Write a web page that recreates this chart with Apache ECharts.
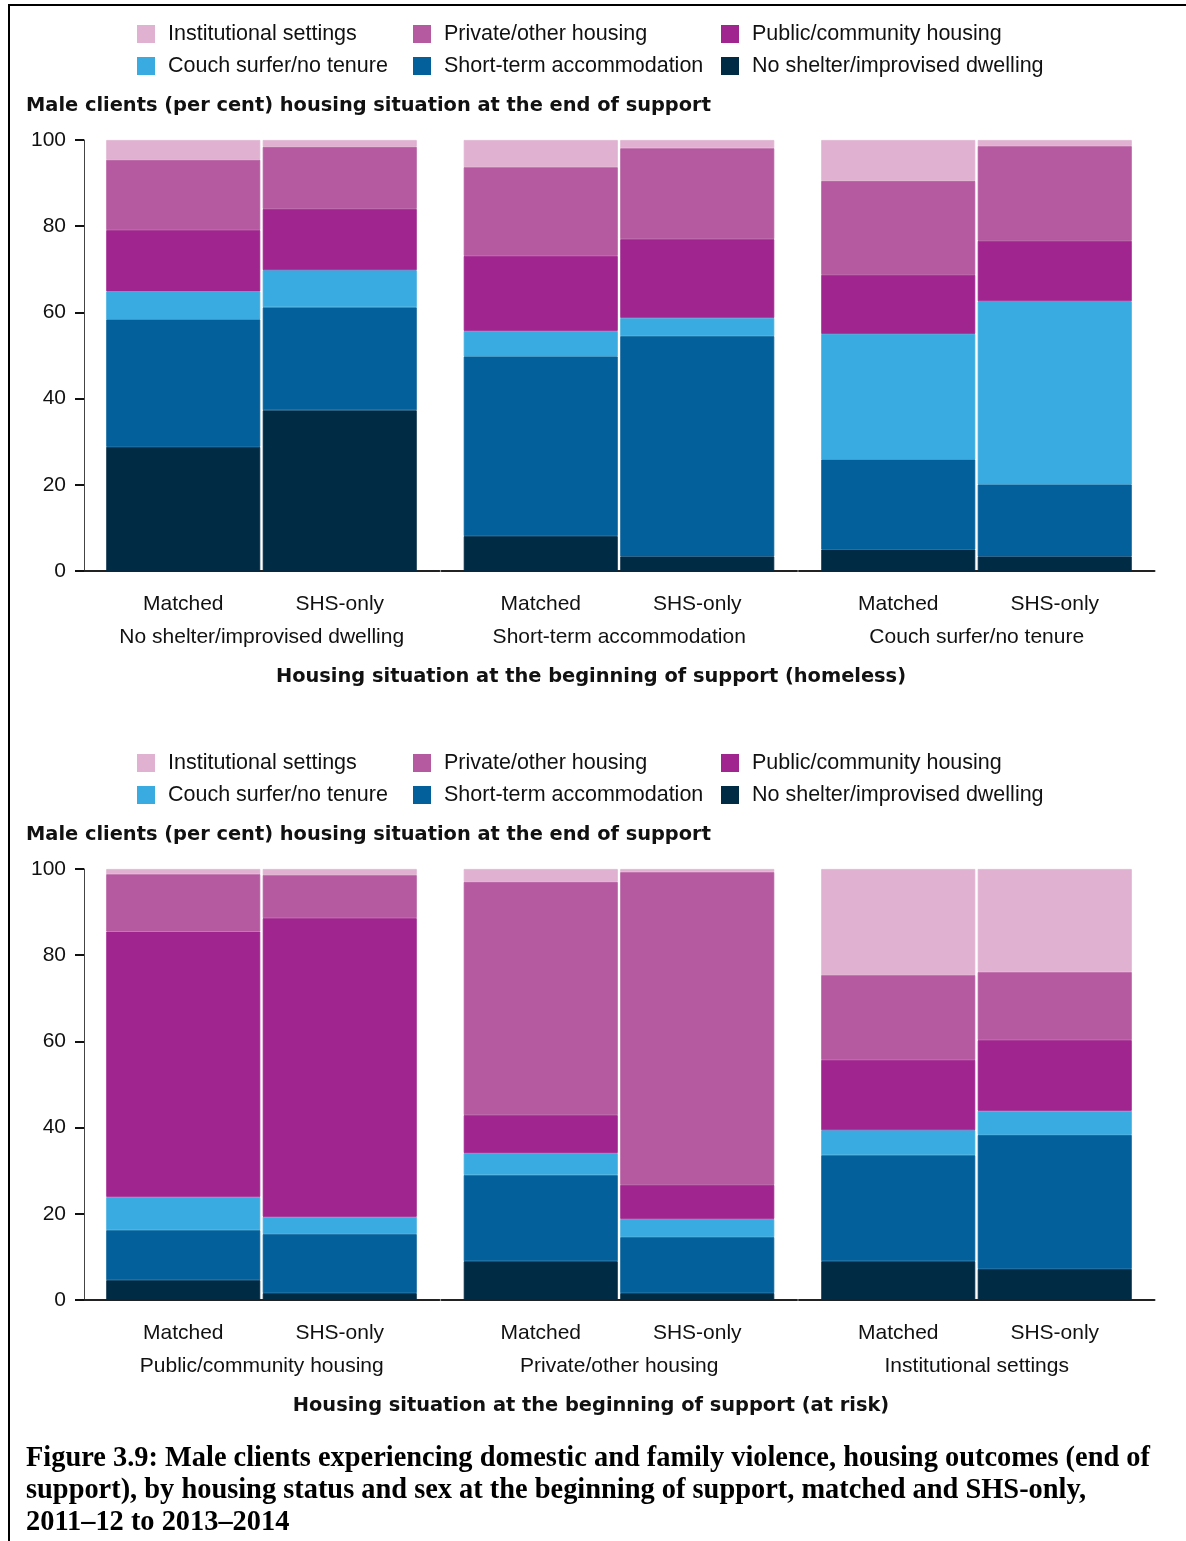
<!DOCTYPE html>
<html><head><meta charset="utf-8">
<script src="https://cdn.jsdelivr.net/npm/echarts@6/dist/echarts.min.js"></script>
<style>
html,body{margin:0;padding:0;background:#fff;}
#frame{position:absolute;left:8px;top:4px;width:1178px;height:1537px;border-top:2px solid #000;border-left:2px solid #000;box-sizing:border-box;}
#chart{position:absolute;left:0;top:0;width:1186px;height:1541px;}
</style></head><body>
<div id="frame"></div><div id="chart"></div>
<script>
// ---- data ----
const seriesNames = ['No shelter/improvised dwelling','Short-term accommodation','Couch surfer/no tenure','Public/community housing','Private/other housing','Institutional settings'];
const seriesColors = ['#002B45','#03609A','#3AABE0','#A0258E','#B55AA0','#E0B1D1'];
const barLabels = ['Matched','SHS-only'];
const homelessGroups = ['No shelter/improvised dwelling','Short-term accommodation','Couch surfer/no tenure'];
const atRiskGroups = ['Public/community housing','Private/other housing','Institutional settings'];
const yTicks = [0,20,40,60,80,100];
// bar order: g1 Matched, g1 SHS-only, g2 Matched, g2 SHS-only, g3 Matched, g3 SHS-only
const homelessNoShelter    = [28.8, 37.3,  8.1,  3.4,  5.0,  3.4];
const homelessShortTerm    = [29.6, 23.9, 41.7, 51.1, 20.9, 16.7];
const homelessCouch        = [ 6.5,  8.6,  5.9,  4.2, 29.1, 42.5];
const homelessPublic       = [14.2, 14.2, 17.4, 18.3, 13.7, 14.0];
const homelessPrivate      = [16.3, 14.4, 20.6, 21.1, 21.8, 22.0];
const homelessInstitution  = [ 4.6,  1.6,  6.3,  1.9,  9.5,  1.4];

const atRiskNoShelter      = [ 4.6,  1.6,  9.0,  1.6,  9.0,  7.2];
const atRiskShortTerm      = [11.6, 13.7, 20.0, 13.0, 24.6, 31.1];
const atRiskCouch          = [ 7.7,  4.0,  5.1,  4.2,  5.8,  5.6];
const atRiskPublic         = [61.6, 69.3,  8.8,  7.9, 16.3, 16.4];
const atRiskPrivate        = [13.3, 10.0, 54.1, 72.6, 19.7, 15.8];
const atRiskInstitution    = [ 1.2,  1.4,  3.0,  0.7, 24.6, 23.9];

const panels = [
  {groups: homelessGroups, values: [homelessNoShelter, homelessShortTerm, homelessCouch, homelessPublic, homelessPrivate, homelessInstitution],
   top: 140, legendTop: 23, title: 'Male clients (per cent) housing situation at the end of support', titleY: 106,
   axisName: 'Housing situation at the beginning of support (homeless)', axisNameY: 677},
  {groups: atRiskGroups, values: [atRiskNoShelter, atRiskShortTerm, atRiskCouch, atRiskPublic, atRiskPrivate, atRiskInstitution],
   top: 869, legendTop: 752, title: 'Male clients (per cent) housing situation at the end of support', titleY: 835,
   axisName: 'Housing situation at the beginning of support (at risk)', axisNameY: 1406}
];

// ---- layout ----
const FONT = '"Liberation Sans", Arial, sans-serif';
const BOLDFONT = 'bold 19.4px "DejaVu Sans", sans-serif';
const TXT = '#111';
const plotH = 431;
const outerLefts = [84, 441.5, 799];
const outerW = 355.5;
const innerOff = 21, innerW = 313;

const grid = [], xAxis = [], yAxis = [], series = [], legend = [], graphic = [];

panels.forEach((p, pi) => {
  p.groups.forEach((gName, gi) => {
    // outer grid: axis line + group label + y axis
    const oIdx = grid.length;
    grid.push({left: outerLefts[gi], top: p.top, width: outerW, height: plotH});
    xAxis.push({type: 'category', gridIndex: oIdx, data: [gName],
      axisLine: {show: true, lineStyle: {color: '#222', width: 2}},
      axisTick: {show: false},
      axisLabel: {margin: 56, fontSize: 21, color: TXT, fontFamily: FONT}});
    yAxis.push({type: 'value', gridIndex: oIdx, min: 0, max: 100, interval: 20, show: gi === 0,
      splitLine: {show: false},
      axisLine: {show: true, lineStyle: {color: '#444', width: 1}},
      axisTick: {show: true, inside: false, length: 9, lineStyle: {color: '#111', width: 2}},
      axisLabel: {margin: 18, fontSize: 21, color: TXT, fontFamily: FONT,
        formatter: v => yTicks.indexOf(v) >= 0 ? String(v) : ''}});
    // inner grid: bars
    const iIdx = grid.length;
    grid.push({left: outerLefts[gi] + innerOff, top: p.top, width: innerW, height: plotH});
    xAxis.push({type: 'category', gridIndex: iIdx, data: barLabels,
      axisLine: {show: false}, axisTick: {show: false},
      axisLabel: {margin: 23, fontSize: 21, color: TXT, fontFamily: FONT}});
    yAxis.push({type: 'value', gridIndex: iIdx, min: 0, max: 100, show: false, splitLine: {show: false}});
    seriesNames.forEach((sName, si) => {
      series.push({type: 'bar', name: sName, xAxisIndex: iIdx, yAxisIndex: iIdx,
        stack: 'p' + pi + 'g' + gi, barWidth: 154,
        itemStyle: {color: seriesColors[si], borderColor: seriesColors[si], borderWidth: 0.8},
        emphasis: {disabled: true},
        data: [p.values[si][gi * 2], p.values[si][gi * 2 + 1]]});
    });
  });
  // legends: 3 columns x 2 rows
  const cols = [[5, 2], [4, 1], [3, 0]];
  const colLefts = [137, 413, 721];
  cols.forEach((c, ci) => {
    legend.push({orient: 'vertical', left: colLefts[ci], top: p.legendTop, padding: 0,
      itemWidth: 16, itemHeight: 16, itemGap: 10, icon: 'rect',
      selectedMode: false,
      textStyle: {fontSize: 21.5, color: TXT, fontFamily: FONT, lineHeight: 20, padding: [0, 0, 0, 9]},
      data: c.map(i => seriesNames[i])});
  });
  graphic.push({type: 'text', x: 26, y: p.titleY,
    style: {text: p.title, font: BOLDFONT, fill: TXT, align: 'left', verticalAlign: 'middle', textAlign: 'left', textVerticalAlign: 'middle'}});
  graphic.push({type: 'text', x: 591, y: p.axisNameY,
    style: {text: p.axisName, font: BOLDFONT, fill: TXT, align: 'center', verticalAlign: 'middle', textAlign: 'center', textVerticalAlign: 'middle'}});
});

const captionLines = [
  'Figure 3.9: Male clients experiencing domestic and family violence, housing outcomes (end of',
  'support), by housing status and sex at the beginning of support, matched and SHS-only,',
  '2011\u201312 to 2013\u20132014'
];
const captionY = [1459, 1491, 1523];
captionLines.forEach((t, i) => {
  graphic.push({type: 'text', x: 26, y: captionY[i],
    style: {text: t, font: 'bold 28.4px "Liberation Serif", "Times New Roman", serif', fill: '#000', align: 'left', verticalAlign: 'middle', textAlign: 'left', textVerticalAlign: 'middle'}});
});

const chart = echarts.init(document.getElementById('chart'), null, {renderer: 'canvas'});
chart.setOption({
  animation: false,
  backgroundColor: 'transparent',
  grid, xAxis, yAxis, series, legend, graphic
});
</script>
</body></html>
